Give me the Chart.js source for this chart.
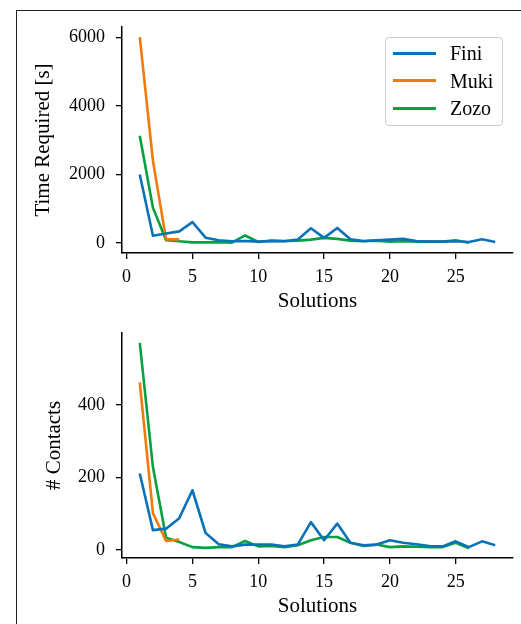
<!DOCTYPE html>
<html><head><meta charset="utf-8">
<script src="https://cdn.jsdelivr.net/npm/chart.js@4"></script>
<style>
html,body{margin:0;padding:0;background:#fff;}
body{width:521px;height:624px;position:relative;overflow:hidden;font-family:"Liberation Serif","DejaVu Serif",serif;}
#frame{position:absolute;left:16px;top:10px;width:700px;height:800px;border-left:1px solid #222;border-top:1px solid #222;}
.wrap{position:absolute;left:0;width:521px;height:314px;}
#w1{top:0}
#w2{top:310px}
#legend{position:absolute;left:385px;top:37px;width:116px;height:87px;border:1px solid #ccc;border-radius:4px;background:rgba(255,255,255,0.8);}
.sw{position:absolute;left:7px;width:43px;height:3px;}
.lt{position:absolute;left:64px;font-size:20px;line-height:20px;color:#000;}
</style>
</head><body>
<div id="frame"></div>
<div class="wrap" id="w1"><canvas id="c1" width="521" height="314"></canvas></div>
<div class="wrap" id="w2"><canvas id="c2" width="521" height="314"></canvas></div>
<div id="legend"></div>
<script>
const seriesNames = ["Fini", "Muki", "Zozo"];
const seriesColors = ["#0a72b8", "#f07a0a", "#08a040"];
const solutions = [1, 2, 3, 4, 5, 6, 7, 8, 9, 10, 11, 12, 13, 14, 15, 16, 17, 18, 19, 20, 21, 22, 23, 24, 25, 26, 27, 28];

const finiTime = [2000, 210, 280, 340, 610, 155, 80, 50, 60, 40, 60, 50, 100, 430, 150, 440, 110, 60, 80, 100, 120, 60, 40, 40, 50, 30, 110, 30];
const mukiTime = [6000, 2400, 105, 105];
const zozoTime = [3130, 1030, 80, 50, 20, 20, 25, 10, 220, 30, 70, 60, 70, 100, 150, 120, 70, 50, 70, 40, 50, 40, 40, 40, 80, 10];

const finiContacts = [211, 55, 59, 88, 165, 47, 16, 10, 15, 15, 15, 10, 15, 77, 27, 73, 20, 13, 15, 27, 20, 16, 11, 10, 24, 8, 24, 13];
const mukiContacts = [463, 102, 25, 29];
const zozoContacts = [572, 229, 34, 22, 8, 6, 8, 8, 25, 10, 11, 8, 13, 27, 36, 36, 20, 11, 15, 8, 10, 9, 8, 8, 20, 5];

const xTicks = [0, 5, 10, 15, 20, 25];
const timeTicks = [0, 2000, 4000, 6000];
const contactTicks = [0, 200, 400];

const FONT = '"Liberation Serif", "DejaVu Serif", serif';

function ds(values, i) {
  return {
    label: seriesNames[i],
    data: values.map((v, k) => ({x: solutions[k], y: v})),
    borderColor: seriesColors[i],
    backgroundColor: seriesColors[i],
    borderWidth: 2.6,
    pointRadius: 0,
    tension: 0,
    borderJoinStyle: 'round',
    fill: false
  };
}

function makeChart(id, sets, yTicks, yMin, yMax, yTitle, padLeft, padTop, padBottom) {
  new Chart(document.getElementById(id), {
    type: 'line',
    data: {datasets: sets},
    options: {
      responsive: false,
      animation: false,
      devicePixelRatio: 1,
      layout: {padding: {left: padLeft, top: padTop, right: 8, bottom: padBottom}},
      plugins: {legend: {display: false}, tooltip: {enabled: false}},
      scales: {
        x: {
          type: 'linear', min: -0.35, max: 29.35,
          afterBuildTicks: s => { s.ticks = xTicks.map(v => ({value: v})); },
          afterFit: s => { s.height = 61; s.paddingLeft = 0; s.paddingRight = 0; },
          ticks: {font: {family: FONT, size: 18}, color: '#000', padding: 7, maxRotation: 0, autoSkip: false, callback: v => String(v)},
          grid: {display: true, drawOnChartArea: false, drawTicks: true, tickLength: 6, color: '#000', lineWidth: 1.3},
          border: {display: true, color: '#000', width: 1.5},
          title: {display: true, text: 'Solutions', font: {family: FONT, size: 21}, color: '#000', padding: 0}
        },
        y: {
          type: 'linear', min: yMin, max: yMax,
          afterBuildTicks: s => { s.ticks = yTicks.map(v => ({value: v})); },
          afterFit: s => { s.width = 122 - padLeft; s.paddingTop = 0; s.paddingBottom = 0; },
          ticks: {font: {family: FONT, size: 18}, color: '#000', padding: 11, autoSkip: false, callback: v => String(v)},
          grid: {display: true, drawOnChartArea: false, drawTicks: true, tickLength: 6, color: '#000', lineWidth: 1.3},
          border: {display: true, color: '#000', width: 1.5},
          title: {display: true, text: yTitle, font: {family: FONT, size: 21}, color: '#000', padding: 0}
        }
      }
    }
  });
}

makeChart('c1', [ds(finiTime, 0), ds(mukiTime, 1), ds(zozoTime, 2)], timeTicks, -291, 6297, 'Time Required [s]', 31, 27, 0);
makeChart('c2', [ds(finiContacts, 0), ds(mukiContacts, 1), ds(zozoContacts, 2)], contactTicks, -22, 599, '# Contacts', 42, 23, 5);

const leg = document.getElementById('legend');
const rowY = [15, 42.5, 70];
seriesNames.forEach((n, i) => {
  const sw = document.createElement('div');
  sw.className = 'sw';
  sw.style.top = (rowY[i] - 1.5) + 'px';
  sw.style.background = seriesColors[i];
  leg.appendChild(sw);
  const t = document.createElement('div');
  t.className = 'lt';
  t.style.top = (rowY[i] - 10) + 'px';
  t.textContent = n;
  leg.appendChild(t);
});
</script>
</body></html>
